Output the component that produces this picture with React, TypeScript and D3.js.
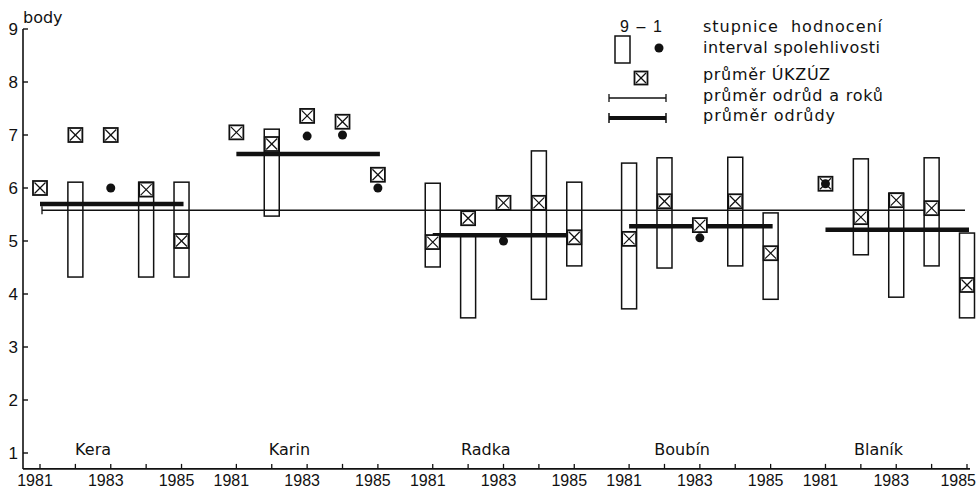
import * as d3 from "d3"

// Odrůdy a roky
const varieties = ["Kera", "Karin", "Radka", "Boubín", "Blaník"]
const years = [1981, 1982, 1983, 1984, 1985]
const labeledYears = [1981, 1983, 1985]

// průměr ÚKZÚZ (⊠)
const ukzuzMean: number[][] = [
  [6.0, 7.0, 7.0, 5.97, 5.0],
  [7.05, 6.83, 7.36, 7.25, 6.25],
  [4.98, 5.43, 5.72, 5.72, 5.07],
  [5.04, 5.75, 5.3, 5.75, 4.77],
  [6.08, 5.45, 5.77, 5.62, 4.17],
]

// interval spolehlivosti (obdélník), null = není
const ciLow: (number | null)[][] = [
  [null, 4.32, null, 4.32, 4.32],
  [null, 5.47, null, null, null],
  [4.51, 3.55, null, 3.9, 4.53],
  [3.72, 4.49, null, 4.53, 3.9],
  [null, 4.74, 3.94, 4.53, 3.55],
]
const ciHigh: (number | null)[][] = [
  [null, 6.11, null, 6.11, 6.11],
  [null, 7.11, null, null, null],
  [6.09, 5.1, null, 6.7, 6.11],
  [6.47, 6.57, null, 6.58, 5.53],
  [null, 6.55, 5.9, 6.57, 5.15],
]

// body (●)
const dots: (number | null)[][] = [
  [null, null, 6.0, null, null],
  [null, null, 6.98, 7.0, 6.0],
  [null, null, 5.0, null, null],
  [null, null, 5.06, null, null],
  [6.08, null, null, null, null],
]

// průměr odrůdy, průměr odrůd a roků
const varietyMean = [5.7, 6.64, 5.11, 5.28, 5.21]
const grandMean = 5.58

const yTicks = [1, 2, 3, 4, 5, 6, 7, 8, 9]

const legendItems = [
  { text: "stupnice  hodnocení", len: 179 },
  { text: "interval spolehlivosti", len: 177 },
  { text: "průměr ÚKZÚZ", len: 127 },
  { text: "průměr odrůd a roků", len: 180 },
  { text: "průměr odrůdy", len: 132 },
]
const legendBaselines = [32, 53, 80, 101, 121]

const W = 977
const H = 489
const groupStep = 5.55
const boxSize = 14
const rectW = 15
const textFont = "'DejaVu Sans', sans-serif"
const numFont = "'Liberation Sans', Arial, sans-serif"
const ink = "#111"

function CrossBox({ cx, cy, s }: { cx: number; cy: number; s: number }) {
  const h = s / 2
  return (
    <g>
      <rect x={cx - h} y={cy - h} width={s} height={s} fill="#fff" stroke={ink} strokeWidth={1.8} />
      <line x1={cx - h + 1.5} y1={cy - h + 1.5} x2={cx + h - 1.5} y2={cy + h - 1.5} stroke={ink} strokeWidth={1.2} />
      <line x1={cx + h - 1.5} y1={cy - h + 1.5} x2={cx - h + 1.5} y2={cy + h - 1.5} stroke={ink} strokeWidth={1.2} />
    </g>
  )
}

export default function App() {
  const x = d3.scaleLinear()
    .domain([0, (varieties.length - 1) * groupStep + years.length - 1])
    .range([40, 967])
  const y = d3.scaleLinear().domain([1, 9]).range([453, 29])
  const pos = (g: number, i: number) => x(g * groupStep + i)

  const axisX = 23
  const axisY = y(0.7)

  return (
    <svg width={W} height={H} style={{ position: "absolute", left: 0, top: 0, background: "#fff" }}>
      <rect width={W} height={H} fill="#fff" />

      {/* osa y */}
      <line x1={axisX} y1={y(9)} x2={axisX} y2={axisY} stroke={ink} strokeWidth={1.6} />
      {yTicks.map(t => (
        <g key={t}>
          <line x1={axisX} x2={axisX + 5} y1={y(t)} y2={y(t)} stroke={ink} strokeWidth={1.4} />
          <text x={18} y={y(t)} dy="0.38em" textAnchor="end" fontFamily={numFont} fontSize={17} fill={ink}>{t}</text>
        </g>
      ))}
      <text x={23} y={23} fontFamily={textFont} fontSize={16} fill={ink}>body</text>

      {/* osa x */}
      <line x1={axisX} y1={axisY} x2={970} y2={axisY} stroke={ink} strokeWidth={1.6} />
      {varieties.map((v, g) => (
        <g key={v}>
          {years.map((yr, i) => {
            const last = g === varieties.length - 1 && i === years.length - 1
            return (
              <g key={yr}>
                <line x1={pos(g, i)} x2={pos(g, i)} y1={axisY} y2={axisY - 5} stroke={ink} strokeWidth={1.3} />
                {labeledYears.includes(yr) && (
                  <text x={last ? 976 : pos(g, i) - 5} y={486} textAnchor={last ? "end" : "middle"}
                    fontFamily={numFont} fontSize={16} fill={ink}>{yr}</text>
                )}
              </g>
            )
          })}
          <text x={pos(g, 1.5)} y={455} textAnchor="middle" fontFamily={textFont} fontSize={16} fill={ink}>{v}</text>
        </g>
      ))}

      {/* intervaly spolehlivosti */}
      {varieties.map((v, g) =>
        years.map((yr, i) => {
          const lo = ciLow[g][i]
          const hi = ciHigh[g][i]
          if (lo == null || hi == null) return null
          return (
            <rect key={`${v}-${yr}`} x={pos(g, i) - rectW / 2} y={y(hi)} width={rectW} height={y(lo) - y(hi)}
              fill="#fff" stroke={ink} strokeWidth={1.5} />
          )
        })
      )}

      {/* průměr odrůd a roků */}
      <line x1={42} x2={965} y1={y(grandMean)} y2={y(grandMean)} stroke={ink} strokeWidth={1.3} />
      <line x1={42} x2={42} y1={y(grandMean) - 4} y2={y(grandMean) + 4} stroke={ink} strokeWidth={1.3} />

      {/* průměr odrůdy */}
      {varietyMean.map((m, g) => (
        <line key={g} x1={pos(g, 0)} x2={pos(g, 4) + 2} y1={y(m)} y2={y(m)} stroke={ink} strokeWidth={4.5} />
      ))}

      {/* průměr ÚKZÚZ */}
      {varieties.map((v, g) =>
        years.map((yr, i) => (
          <CrossBox key={`${v}-${yr}`} cx={pos(g, i)} cy={y(ukzuzMean[g][i])} s={boxSize} />
        ))
      )}

      {/* body */}
      {varieties.map((v, g) =>
        years.map((yr, i) => {
          const d = dots[g][i]
          if (d == null) return null
          return <circle key={`${v}-${yr}`} cx={pos(g, i)} cy={y(d)} r={4.5} fill={ink} />
        })
      )}

      {/* legenda */}
      <text x={641} y={32} textAnchor="middle" fontFamily={numFont} fontSize={16} fill={ink}
        textLength={42} lengthAdjust="spacing" style={{ whiteSpace: "pre" }}>9 – 1</text>
      <rect x={615} y={36} width={15} height={27} fill="#fff" stroke={ink} strokeWidth={1.5} />
      <circle cx={659} cy={48} r={4.5} fill={ink} />
      <CrossBox cx={641} cy={78} s={13} />
      <line x1={609} x2={666} y1={98} y2={98} stroke={ink} strokeWidth={1.3} />
      <line x1={609} x2={609} y1={94} y2={102} stroke={ink} strokeWidth={1.3} />
      <line x1={666} x2={666} y1={94} y2={102} stroke={ink} strokeWidth={1.3} />
      <line x1={609} x2={666} y1={118} y2={118} stroke={ink} strokeWidth={4} />
      <line x1={609} x2={609} y1={113} y2={123} stroke={ink} strokeWidth={1.5} />
      <line x1={666} x2={666} y1={113} y2={123} stroke={ink} strokeWidth={1.5} />
      {legendItems.map((it, k) => (
        <text key={it.text} x={703} y={legendBaselines[k]} fontFamily={textFont} fontSize={16} fill={ink}
          textLength={it.len} lengthAdjust="spacing" style={{ whiteSpace: "pre" }}>{it.text}</text>
      ))}
    </svg>
  )
}
